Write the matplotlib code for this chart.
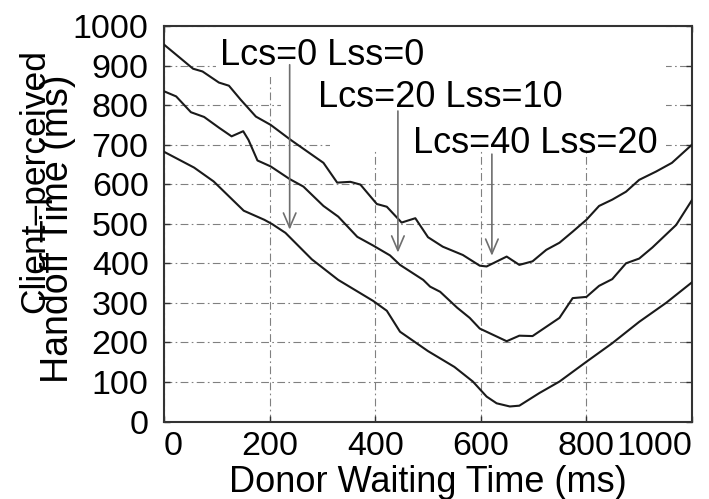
import matplotlib
matplotlib.use('Agg')
import matplotlib.pyplot as plt
from matplotlib.patches import Rectangle

plt.rcParams['font.family'] = ['Liberation Sans', 'DejaVu Sans']

# Lcs=40 Lss=20 (top curve)
x_top = [0, 28, 55, 73, 104, 123, 145, 174, 202, 240, 271, 302, 328, 353, 372, 403, 422,
         450, 476, 500, 528, 566, 598, 611, 649, 673, 698, 724, 749, 774, 800, 824, 849,
         875, 900, 932, 962, 1000]
y_top = [953, 922, 892, 885, 857, 849, 814, 771, 750, 712, 683, 654, 604, 606, 599, 550, 543,
         503, 514, 466, 442, 421, 394, 392, 417, 396, 405, 434, 452, 480, 510, 545, 561,
         581, 611, 632, 654, 700]

# Lcs=20 Lss=10 (middle curve)
x_mid = [0, 23, 51, 76, 104, 128, 150, 160, 177, 202, 238, 264, 302, 330, 366, 396, 428,
         447, 491, 504, 523, 555, 579, 598, 649, 673, 698, 749, 774, 800, 824, 849, 875,
         900, 925, 970, 1000]
y_mid = [835, 822, 782, 770, 743, 721, 734, 712, 660, 645, 613, 594, 545, 518, 467, 445, 420,
         396, 358, 341, 328, 288, 262, 235, 203, 217, 216, 262, 312, 315, 343, 360, 400,
         412, 440, 497, 560]

# Lcs=0 Lss=0 (bottom curve)
x_bot = [0, 57, 94, 151, 190, 205, 230, 280, 330, 396, 422, 447, 500, 550, 585, 611, 630,
         655, 673, 711, 749, 800, 849, 900, 951, 1000]
y_bot = [682, 642, 607, 533, 510, 499, 477, 410, 358, 305, 280, 227, 178, 138, 101, 63, 46,
         38, 40, 72, 101, 151, 198, 252, 300, 352]

x_ticks = [0, 200, 400, 600, 800, 1000]
y_ticks = [0, 100, 200, 300, 400, 500, 600, 700, 800, 900, 1000]

labels = ['Lcs=0 Lss=0', 'Lcs=20 Lss=10', 'Lcs=40 Lss=20']
ylabel_lines = ['Client\u2013perceived', 'Handoff Time (ms)']

fig = plt.figure(figsize=(7.09, 4.99), dpi=100)
ax = fig.add_axes([164/709, 1 - 421.5/499, (692 - 164)/709, (421.5 - 26)/499])

ax.set_xlim(0, 1000)
ax.set_ylim(0, 1000)
ax.set_xticks(x_ticks)
ax.set_yticks(y_ticks)

ax.grid(True, color='#808080', lw=0.8, linestyle=(0, (7, 3, 1.5, 3)))
ax.set_axisbelow(True)

# white label boxes that hide the grid behind the labels
for (x0, y0, x1, y1) in [(98, 872, 951, 1000), (221, 762, 951, 872), (315, 687, 951, 762)]:
    ax.add_patch(Rectangle((x0, y0), x1 - x0, y1 - y0, facecolor='white',
                           edgecolor='none', zorder=1))

for xs, ys in [(x_top, y_top), (x_mid, y_mid), (x_bot, y_bot)]:
    ax.plot(xs, ys, color='#1a1a1a', lw=1.5, zorder=3, solid_joinstyle='round')

text_pos = [(107, 902), (292, 796), (472, 680)]
arrows = [(238, 902, 485), (443, 785, 427), (621, 676, 419)]
for lab, (tx, ty) in zip(labels, text_pos):
    ax.text(tx, ty, lab, fontsize=26, ha='left', va='baseline', color='black', zorder=5)
for (axx, y0, y1) in arrows:
    ax.annotate('', xy=(axx, y1), xytext=(axx, y0),
                arrowprops=dict(arrowstyle='->,head_length=0.7,head_width=0.3',
                                color='#6e6e6e', lw=1.2, shrinkA=0, shrinkB=0,
                                mutation_scale=15), zorder=4)

for sp in ax.spines.values():
    sp.set_color('#333333')
    sp.set_linewidth(1.5)

ax.tick_params(direction='in', length=4, width=1, color='#333333',
               top=True, right=True, labelsize=24.5)
ax.tick_params(axis='y', pad=11)
ax.tick_params(axis='x', pad=7)
fig.canvas.draw()
xl = ax.get_xticklabels()
xl[0].set_ha('left')
xl[-1].set_ha('right')

ax.set_xlabel('Donor Waiting Time (ms)', fontsize=26, labelpad=2)

# two-line y label (lines are offset in the original)
fig.text(44/709, 1 - 181/499, ylabel_lines[0], rotation=90, rotation_mode='anchor',
         ha='center', va='baseline', fontsize=25.5)
fig.text(68/709, 1 - 229/499, ylabel_lines[1], rotation=90, rotation_mode='anchor',
         ha='center', va='baseline', fontsize=27)

fig.savefig('out.png', dpi=100)
